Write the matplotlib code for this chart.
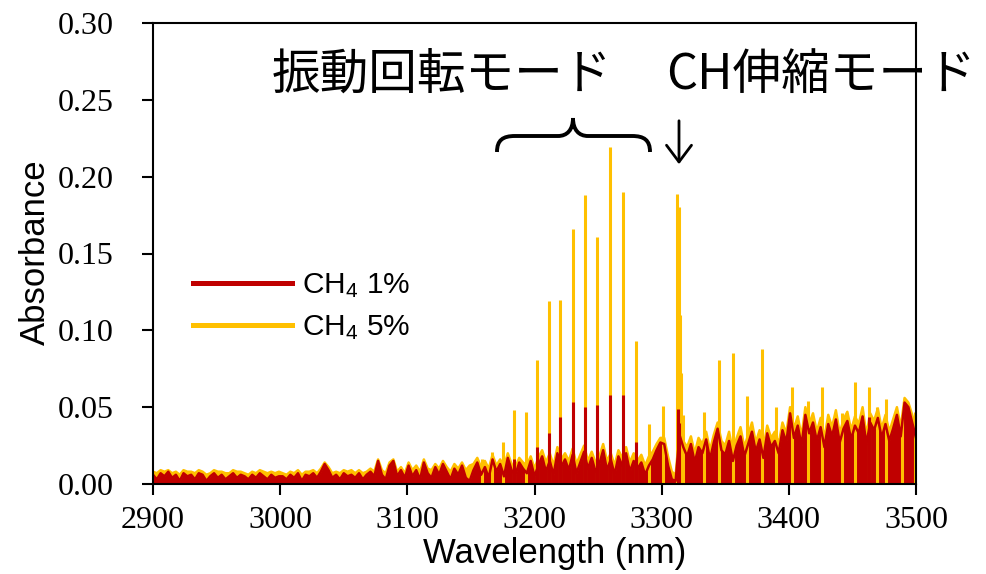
import matplotlib
matplotlib.use("Agg")
import matplotlib.pyplot as plt
import numpy as np
from matplotlib.lines import Line2D
from matplotlib.path import Path
from matplotlib.patches import PathPatch

plt.rcParams['mathtext.fontset'] = 'custom'
plt.rcParams['mathtext.rm'] = 'Liberation Sans'
plt.rcParams['mathtext.it'] = 'Liberation Sans'

# 波長グリッド (3 nm 刻み)，吸光度は 1e-3 単位で読み取り
wavelength = np.arange(2900, 3501, 3)

# CH4 1% のベースライン (2900-3500 nm)
red_base = [
    6, 3, 7, 5, 8, 4, 6, 2, 7, 5, 6, 3, 7, 6, 2, 5, 7, 4, 6, 3, 5, 7, 4, 6, 5, 3, 6, 4, 7, 5, 3, 6, 4, 5,
    5, 3, 6, 4, 7, 2, 6, 5, 7, 4, 8, 13, 9, 4, 6, 3, 7, 5, 6, 4, 7, 3, 6, 8, 5, 15, 6, 3, 12, 15, 5, 9, 4,
    12, 5, 9, 3, 14, 7, 4, 11, 6, 13, 8, 3, 10, 6, 12, 4, 2,
    9, 14, 6, 11, 4, 16, 8, 13, 5, 17, 9, 6, 14, 10, 7, 15, 5,
    12, 18, 8, 15, 6, 20, 11, 16, 9, 19, 7, 14, 21, 10, 17, 8, 13, 22, 9, 16, 6, 18, 12, 20, 8, 15, 10, 14, 6, 12, 16, 22, 27,
    26, 12, 3, 2, 32, 24,
    18, 26, 14, 24, 20, 29, 16, 27, 36, 22, 19, 28, 15, 25, 31, 18, 26, 34, 21, 29, 17, 33, 24, 28, 20, 35, 27,
    46, 30, 38, 25, 45, 33, 40, 28, 37, 24, 39, 31, 42, 27, 36, 41, 29, 38, 33, 44, 26, 40, 35, 43, 30, 39, 28,
    36, 45, 31, 53, 50, 40, 30,
]

# CH4 5% のベースライン
yellow_base = [
    8, 7, 9, 8, 9, 7, 8, 6, 9, 8, 8, 7, 9, 8, 6, 7, 9, 8, 8, 7, 7, 9, 8, 8, 7, 6, 8, 7, 9, 8, 7, 8, 7, 8,
    7, 6, 8, 7, 9, 6, 8, 8, 9, 7, 10, 14, 11, 7, 8, 7, 9, 8, 9, 7, 9, 7, 8, 10, 8, 16, 9, 7, 14, 16, 8, 11, 7,
    14, 9, 12, 8, 16, 10, 9, 13, 10, 15, 11, 8, 13, 10, 14, 9, 12,
    13, 17, 11, 15, 10, 19, 12, 16, 11, 20, 13, 11, 17, 14, 12, 18, 10,
    17, 22, 14, 20, 12, 24, 16, 20, 15, 23, 13, 19, 25, 15, 21, 14, 18, 26, 15, 20, 12, 22, 17, 24, 14, 20, 15, 19, 12, 18, 21, 26, 30,
    30, 18, 8, 6, 34, 28,
    24, 31, 20, 30, 26, 34, 22, 32, 40, 28, 25, 34, 21, 30, 37, 24, 32, 40, 27, 35, 23, 38, 30, 34, 26, 40, 33,
    50, 36, 44, 31, 50, 39, 46, 34, 43, 30, 45, 37, 48, 33, 42, 47, 35, 44, 39, 50, 32, 46, 41, 49, 36, 45, 34,
    42, 50, 37, 56, 53, 45, 36,
]

# 吸収線 (波長 nm, 吸光度)
yellow_peak_wl = [3158.4, 3166.3, 3174.9, 3183.8, 3193.0, 3201.6, 3211.1, 3220.2, 3229.9, 3239.6,
                  3249.1, 3259.3, 3269.3, 3279.7, 3290.2, 3300.7, 3312.4, 3313.4, 3314.4, 3315.4,
                  3316.6, 3333.2, 3344.7, 3356.0, 3367.2, 3378.8, 3390.3, 3402.4, 3415.0, 3426.3,
                  3441.8, 3451.8, 3463.0, 3469.0, 3476.6, 3488.6, 3499.6]
yellow_peak_abs = [0.016, 0.021, 0.0275, 0.048, 0.047, 0.081, 0.119, 0.120, 0.166, 0.188,
                   0.161, 0.2195, 0.190, 0.093, 0.039, 0.051, 0.189, 0.180, 0.110, 0.072,
                   0.045, 0.047, 0.081, 0.085, 0.057, 0.088, 0.050, 0.063, 0.054, 0.063,
                   0.046, 0.0666, 0.063, 0.050, 0.055, 0.045, 0.047]
red_peak_wl = [3183.8, 3201.6, 3211.1, 3220.2, 3229.9, 3239.6, 3249.1, 3259.3, 3269.3, 3279.7,
               3312.6, 3313.8, 3463.0]
red_peak_abs = [0.016, 0.024, 0.0335, 0.0435, 0.0536, 0.0503, 0.0514, 0.058, 0.058, 0.0275,
                0.049, 0.040, 0.0435]

series_labels = [r"CH$_{4}$ 1%", r"CH$_{4}$ 5%"]
xticks = [2900, 3000, 3100, 3200, 3300, 3400, 3500]
yticks = [0.00, 0.05, 0.10, 0.15, 0.20, 0.25, 0.30]

RED = '#C00000'
YEL = '#FFC000'
W, H = 987, 574


def px(x, y):
    # 画像のピクセル座標 -> figure 座標
    return x / W, 1 - y / H


fig = plt.figure(figsize=(W / 100, H / 100), dpi=100)
ax = fig.add_axes([153 / W, 1 - 484 / H, (916 - 153) / W, (484 - 23) / H])

yb = np.array(yellow_base) / 1000
rb = np.array(red_base) / 1000

ax.fill_between(wavelength, 0, yb, color=YEL, lw=0)
ax.plot(wavelength, yb, color=YEL, lw=1.8)
ax.vlines(yellow_peak_wl, 0, yellow_peak_abs, color=YEL, lw=2.2)
ax.fill_between(wavelength, 0, rb, color=RED, lw=0)
ax.plot(wavelength, rb, color=RED, lw=1.8)
ax.vlines(red_peak_wl, 0, red_peak_abs, color=RED, lw=2.2)

ax.set_xlim(2900, 3500)
ax.set_ylim(0, 0.30)
ax.set_xticks(xticks)
ax.set_yticks(yticks)
ax.set_yticklabels(["%.2f" % v for v in yticks])
for s in ax.spines.values():
    s.set_linewidth(1.5)
ax.tick_params(direction='out', length=8, width=1.5, labelsize=23, pad=8)
ax.tick_params(axis='y', pad=20)
for lab in ax.get_xticklabels() + ax.get_yticklabels():
    lab.set_fontfamily('Liberation Serif')

ax.set_xlabel("Wavelength (nm)", fontsize=25, family='Liberation Sans', va='center')
ax.xaxis.set_label_coords((555 - 153) / 763, -(553 - 484) / 461)
ax.set_ylabel("Absorbance", fontsize=25, family='Liberation Sans', va='center')
ax.yaxis.set_label_coords(-(153 - 35) / 763, (484 - 252) / 461)

handles = [Line2D([], [], color=RED, lw=3.6), Line2D([], [], color=YEL, lw=3.6)]
fig.legend(handles, series_labels, loc='upper left', bbox_to_anchor=px(193, 271),
           frameon=False, prop={'family': 'Liberation Sans', 'size': 21.5},
           handlelength=3.3, handletextpad=0.35, labelspacing=0.45, borderpad=0, borderaxespad=0)

jp = ['Noto Sans CJK JP', 'DejaVu Sans']
fig.text(*px(442, 75), "振動回転モード", ha='center', va='center', fontsize=35, family=jp)
fig.text(*px(821, 75), "CH伸縮モード", ha='center', va='center', fontsize=35, family=jp)

# 中括弧
pts = [(497, 152), (497, 140), (503, 136), (515, 136), (558, 136),
       (567, 136), (573, 130), (573, 118), (573, 130), (579, 136), (588, 136),
       (632, 136), (644, 136), (650, 140), (650, 152)]
codes = [Path.MOVETO, Path.CURVE4, Path.CURVE4, Path.CURVE4, Path.LINETO,
         Path.CURVE4, Path.CURVE4, Path.CURVE4, Path.CURVE4, Path.CURVE4, Path.CURVE4,
         Path.LINETO, Path.CURVE4, Path.CURVE4, Path.CURVE4]
brace = Path([px(x, y) for x, y in pts], codes)
fig.patches.append(PathPatch(brace, transform=fig.transFigure, fill=False, lw=2.8, color='black'))

# 矢印
fig.add_artist(matplotlib.patches.FancyArrowPatch(px(679, 118), px(679, 167), transform=fig.transFigure,
               arrowstyle='->,head_length=0.6,head_width=0.45', mutation_scale=20, lw=2, color='black'))

fig.savefig("out.png", dpi=100)
